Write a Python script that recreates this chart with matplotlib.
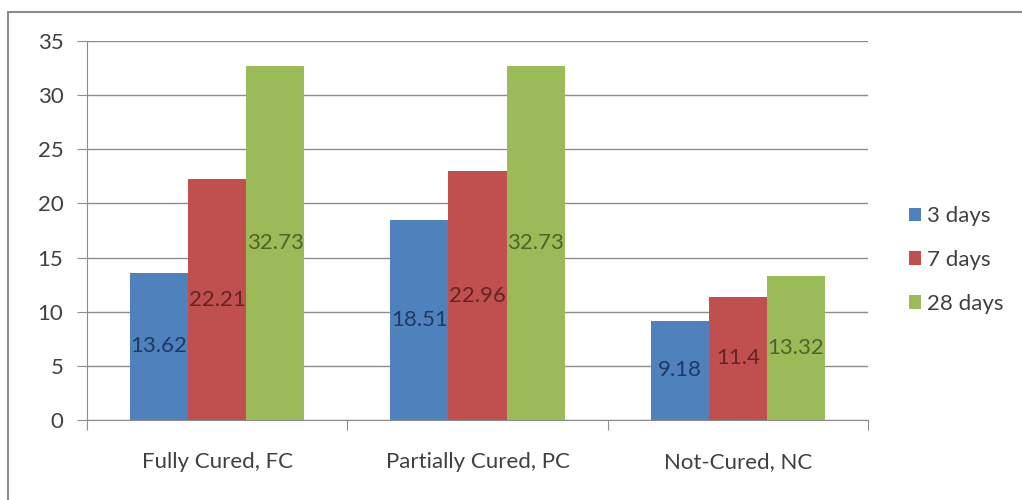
import numpy as np
import matplotlib
matplotlib.use("Agg")
import matplotlib.pyplot as plt
from matplotlib.patches import Rectangle

categories = ["Fully Cured, FC", "Partially Cured, PC", "Not-Cured, NC"]
series = ["3 days", "7 days", "28 days"]
values_3d = [13.62, 18.51, 9.18]
values_7d = [22.21, 22.96, 11.4]
values_28d = [32.73, 32.73, 13.32]

# office-style fills and darker shades for the in-bar labels
FILL = ["#4F81BD", "#C0504D", "#9BBB59"]
LABEL = ["#1F3864", "#632523", "#4F6228"]
TXT = "#404040"
FS = 16

plt.rcParams["font.family"] = ["Lato", "DejaVu Sans"]

fig = plt.figure(figsize=(10.22, 5.0), dpi=100)
fig.patch.set_facecolor("white")
# chart-area frame (runs off the right and bottom edges)
fig.patches.append(Rectangle((8 / 1022, -20 / 500), 1040 / 1022, 508 / 500,
                             transform=fig.transFigure, fill=False,
                             edgecolor="#8c8c8c", lw=1.5))

ax = fig.add_axes([87 / 1022, 80 / 500, 781 / 1022, 379 / 500])
x = np.arange(len(categories))
w = 0.223
for i, vals in enumerate([values_3d, values_7d, values_28d]):
    xs = x + (i - 1) * w
    ax.bar(xs, vals, width=w, color=FILL[i], label=series[i], zorder=2)
    for xi, v in zip(xs, vals):
        ax.text(xi, v / 2, f"{v:g}", ha="center", va="center",
                fontsize=FS, color=LABEL[i], zorder=3)

ax.set_xlim(-0.5, len(categories) - 0.5)
ax.set_ylim(0, 35)
ax.set_yticks(np.arange(0, 36, 5))
ax.yaxis.grid(True, color="#8c8c8c", lw=1.0, zorder=0)
ax.set_axisbelow(True)

# category ticks sit on the group boundaries
ax.set_xticks(np.arange(-0.5, len(categories), 1.0))
ax.set_xticklabels([])
ax.set_xticks(x, minor=True)
ax.set_xticklabels(categories, minor=True, fontsize=FS, color=TXT)
ax.tick_params(axis="x", which="minor", length=0, pad=23)
ax.tick_params(axis="x", which="major", length=7, color="#8c8c8c", direction="out")
ax.tick_params(axis="y", length=7, color="#8c8c8c", labelsize=FS,
               labelcolor=TXT, pad=10)

for s in ["top", "right"]:
    ax.spines[s].set_visible(False)
for s in ["left", "bottom"]:
    ax.spines[s].set_color("#8c8c8c")

fig.legend(*ax.get_legend_handles_labels(), loc="center left",
           bbox_to_anchor=(898 / 1022, 240 / 500), frameon=False, borderpad=0,
           fontsize=FS, handlelength=0.55, handleheight=0.55,
           handletextpad=0.25, labelspacing=1.07, labelcolor=TXT)

fig.savefig("out.png", dpi=100, facecolor="white")
